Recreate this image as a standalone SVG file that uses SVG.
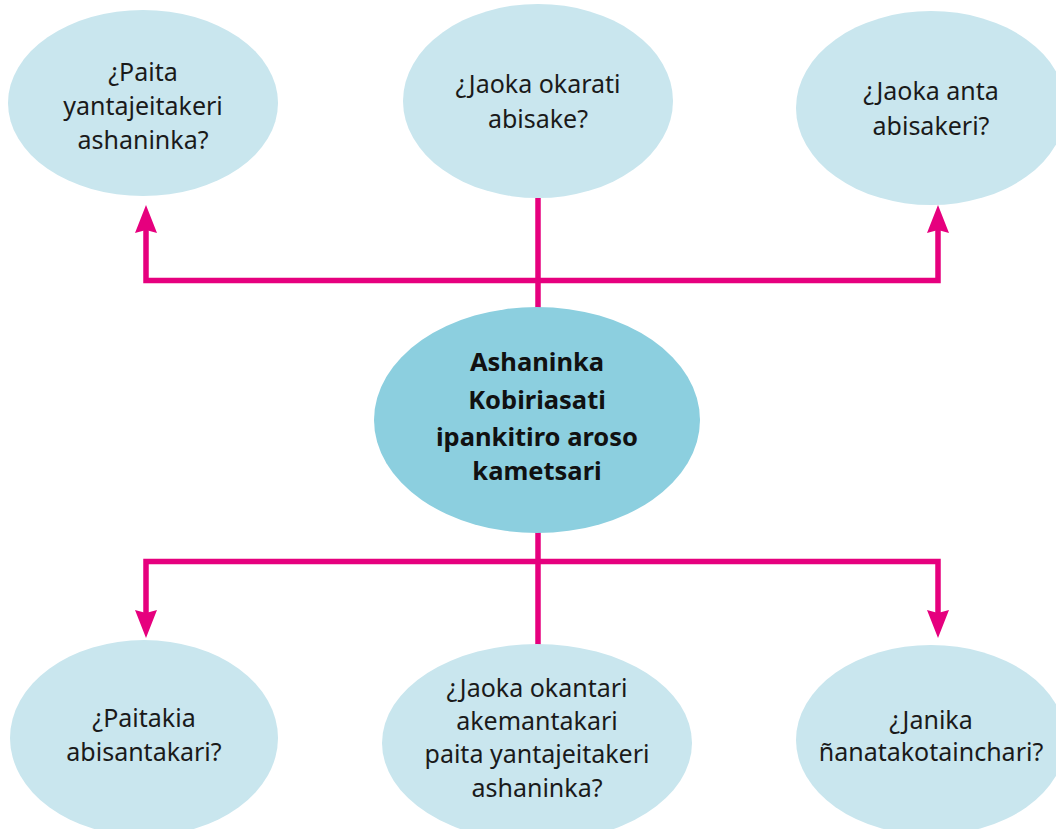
<svg xmlns="http://www.w3.org/2000/svg" width="1056" height="829" viewBox="0 0 1056 829">
  <style>
    .leaf { fill: #c9e6ee; }
    .hub { fill: #8ccfdf; }
    .t { font-family: "Noto Sans", "Open Sans", sans-serif; font-size: 25px; fill: #1a1a1a; text-anchor: middle; }
    .tb { font-family: "Noto Sans", "Open Sans", sans-serif; font-size: 25.5px; font-weight: bold; fill: #111; text-anchor: middle; }
    .wire { fill: none; stroke: #e6007e; stroke-width: 5.5; stroke-linejoin: miter; }
    .head { fill: #e6007e; }
  </style>
  <rect width="1056" height="829" fill="#ffffff"/>

  <g id="connectors">
    <path class="wire" d="M538 198 V310"/>
    <path class="wire" d="M146 228 V280.5 H938 V228"/>
    <path class="wire" d="M538 530 V646"/>
    <path class="wire" d="M146 614 V561.5 H938 V614"/>
    <path class="head" d="M146 205 L157 233 L146 230 L135 233 Z"/>
    <path class="head" d="M938 205 L949 233 L938 230 L927 233 Z"/>
    <path class="head" d="M146 638 L157 610 L146 613 L135 610 Z"/>
    <path class="head" d="M938 638 L949 610 L938 613 L927 610 Z"/>
  </g>

  <g id="node-top-left">
    <ellipse class="leaf" cx="143" cy="103" rx="135" ry="93"/>
    <text class="t" x="143" y="81">¿Paita</text>
    <text class="t" x="143" y="115">yantajeitakeri</text>
    <text class="t" x="143" y="149">ashaninka?</text>
  </g>

  <g id="node-top-middle">
    <ellipse class="leaf" cx="538" cy="101" rx="135" ry="97"/>
    <text class="t" x="538" y="93">¿Jaoka okarati</text>
    <text class="t" x="538" y="128">abisake?</text>
  </g>

  <g id="node-top-right">
    <ellipse class="leaf" cx="931" cy="108" rx="135" ry="97"/>
    <text class="t" x="931" y="100">¿Jaoka anta</text>
    <text class="t" x="931" y="135">abisakeri?</text>
  </g>

  <g id="node-center">
    <ellipse class="hub" cx="537" cy="420" rx="163" ry="113"/>
    <text class="tb" x="537" y="371">Ashaninka</text>
    <text class="tb" x="537" y="409">Kobiriasati</text>
    <text class="tb" x="537" y="446">ipankitiro aroso</text>
    <text class="tb" x="537" y="480">kametsari</text>
  </g>

  <g id="node-bottom-left">
    <ellipse class="leaf" cx="144" cy="738" rx="134" ry="98"/>
    <text class="t" x="144" y="727">¿Paitakia</text>
    <text class="t" x="144" y="761">abisantakari?</text>
  </g>

  <g id="node-bottom-middle">
    <ellipse class="leaf" cx="537" cy="743" rx="155" ry="99"/>
    <text class="t" x="537" y="697">¿Jaoka okantari</text>
    <text class="t" x="537" y="730">akemantakari</text>
    <text class="t" x="537" y="763">paita yantajeitakeri</text>
    <text class="t" x="537" y="797">ashaninka?</text>
  </g>

  <g id="node-bottom-right">
    <ellipse class="leaf" cx="931" cy="740" rx="135" ry="95"/>
    <text class="t" x="931" y="729">¿Janika</text>
    <text class="t" x="931" y="761">ñanatakotainchari?</text>
  </g>
</svg>
